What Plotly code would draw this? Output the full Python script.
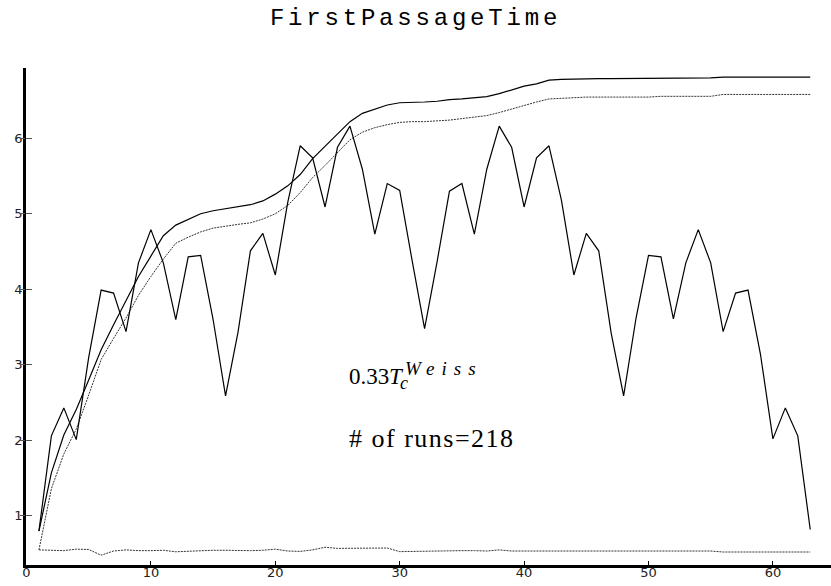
import plotly.graph_objects as go

# Site index along the chain
steps = list(range(1, 64))

# First passage time at each site
fpt = [0.80, 2.06, 2.43, 2.01, 3.10, 3.99, 3.95, 3.44, 4.35, 4.79,
       4.35, 3.60, 4.43, 4.45, 3.60, 2.59, 3.43, 4.51, 4.74, 4.19,
       5.15, 5.90, 5.74, 5.09, 5.88, 6.16, 5.59, 4.73, 5.40, 5.31,
       4.38, 3.48, 4.36, 5.30, 5.40, 4.73, 5.59, 6.16, 5.88, 5.09,
       5.74, 5.90, 5.18, 4.19, 4.74, 4.51, 3.42, 2.59, 3.62, 4.45,
       4.43, 3.61, 4.35, 4.79, 4.35, 3.44, 3.95, 3.99, 3.14, 2.02,
       2.43, 2.06, 0.82]

# Running maximum envelope
envelope = [0.80, 1.57, 2.07, 2.41, 2.80, 3.20, 3.53, 3.86, 4.17, 4.44,
            4.71, 4.85, 4.93, 5.00, 5.04, 5.07, 5.09, 5.12, 5.17, 5.26,
            5.37, 5.52, 5.73, 5.89, 6.05, 6.22, 6.33, 6.39, 6.44, 6.47,
            6.47, 6.48, 6.49, 6.51, 6.52, 6.54, 6.55, 6.59, 6.64, 6.69,
            6.72, 6.77, 6.78, 6.785, 6.79, 6.79, 6.79, 6.79, 6.79, 6.79,
            6.80, 6.80, 6.80, 6.80, 6.80, 6.81, 6.81, 6.81, 6.81, 6.81,
            6.81, 6.81, 6.81]

# Smoothed envelope
smoothed = [0.55, 1.36, 1.82, 2.15, 2.60, 3.07, 3.35, 3.62, 3.92, 4.17,
            4.40, 4.61, 4.69, 4.76, 4.81, 4.84, 4.86, 4.88, 4.93, 5.00,
            5.11, 5.28, 5.48, 5.64, 5.81, 5.98, 6.08, 6.14, 6.18, 6.21,
            6.22, 6.22, 6.23, 6.24, 6.26, 6.28, 6.30, 6.34, 6.39, 6.44,
            6.48, 6.52, 6.53, 6.54, 6.545, 6.545, 6.545, 6.545, 6.545, 6.545,
            6.555, 6.555, 6.555, 6.555, 6.555, 6.58, 6.58, 6.58, 6.58, 6.58,
            6.58, 6.58, 6.58]

# Spread of the passage time
spread = [0.55, 0.545, 0.54, 0.56, 0.555, 0.48, 0.535, 0.55, 0.54, 0.54,
          0.545, 0.525, 0.535, 0.545, 0.545, 0.545, 0.54, 0.54, 0.545, 0.56,
          0.535, 0.53, 0.55, 0.585, 0.57, 0.57, 0.57, 0.57, 0.575, 0.527,
          0.53, 0.53, 0.535, 0.545, 0.54, 0.54, 0.535, 0.55, 0.535, 0.535,
          0.535, 0.535, 0.535, 0.535, 0.535, 0.535, 0.535, 0.535, 0.535, 0.535,
          0.535, 0.535, 0.535, 0.535, 0.535, 0.522, 0.522, 0.522, 0.522, 0.522,
          0.522, 0.522, 0.522]

x_ticks = [0, 10, 20, 30, 40, 50, 60]
y_ticks = [1, 2, 3, 4, 5, 6]

title_text = "FirstPassageTime"
temp_coef = "0.33"
temp_sym = "<i>T</i>"
temp_sup = "<i>Weiss</i>"
temp_sub = "<i>c</i>"
runs_label = "# of runs=218"

W, H = 831, 586
ML, MR, MT, MB = 26, 0, 68, 21
XR = [-0.04, 64.67]
YR = [0.35, 6.93]

fig = go.Figure()

dotted = "2px,1px"
fig.add_trace(go.Scatter(x=steps, y=spread, mode="lines",
                         line=dict(color="#333", width=1, dash=dotted)))
fig.add_trace(go.Scatter(x=steps, y=smoothed, mode="lines",
                         line=dict(color="#333", width=1, dash=dotted)))
fig.add_trace(go.Scatter(x=steps, y=envelope, mode="lines",
                         line=dict(color="black", width=1.2)))
fig.add_trace(go.Scatter(x=steps, y=fpt, mode="lines",
                         line=dict(color="black", width=1.2)))
# empty trace so the overlay axes (outer tick marks) are drawn
fig.add_trace(go.Scatter(x=[None], y=[None], xaxis="x2", yaxis="y2",
                         mode="lines", hoverinfo="skip"))

tick_font = dict(family="DejaVu Sans", size=13, color="#222")

fig.update_layout(
    width=W, height=H,
    margin=dict(l=ML, r=MR, t=MT, b=MB),
    paper_bgcolor="white", plot_bgcolor="white",
    showlegend=False,
    title=dict(text='<span style="letter-spacing:3.8px">' + title_text + '</span>',
               x=0.5, xanchor="center", y=1 - 25 / H, yanchor="bottom",
               font=dict(family="Liberation Mono", size=24, color="black")),
    # main axes: inner tick marks, labels right next to the axis line
    xaxis=dict(range=XR, tickvals=x_ticks, ticks="inside", ticklen=4,
               tickwidth=1, tickcolor="black", showline=True, linewidth=2.5,
               linecolor="black", showgrid=False, zeroline=False,
               tickfont=tick_font, ticklabelstandoff=-6),
    yaxis=dict(range=YR, tickvals=y_ticks, ticks="inside", ticklen=6,
               tickwidth=1, tickcolor="#555", showline=True, linewidth=2.5,
               linecolor="black", showgrid=False, zeroline=False,
               tickfont=tick_font, ticklabelstandoff=-2),
    # overlay axes: the short outer part of each tick mark
    xaxis2=dict(range=XR, overlaying="x", anchor="y2", side="bottom",
                tickvals=x_ticks, ticks="outside", ticklen=2, tickwidth=1,
                tickcolor="black", showticklabels=False, showline=False,
                showgrid=False, zeroline=False),
    yaxis2=dict(range=YR, overlaying="y", anchor="x2", side="left",
                tickvals=y_ticks, ticks="outside", ticklen=5, tickwidth=1,
                tickcolor="#555", showticklabels=False, showline=False,
                showgrid=False, zeroline=False),
)

pw = W - ML - MR
ph = H - MT - MB


def px(xp):
    return (xp - ML) / pw


def py(yp):
    return (H - MB - yp) / ph


def label(text, left, bottom, size):
    fig.add_annotation(xref="paper", yref="paper", x=px(left), y=py(bottom),
                       xanchor="left", yanchor="bottom", showarrow=False,
                       text=text,
                       font=dict(family="Liberation Serif", size=size, color="black"))


label(temp_coef, 347, 390.5, 23)
label(temp_sym, 387, 390.5, 23)
label('<span style="letter-spacing:7px">' + temp_sup + '</span>', 403, 381, 19)
label(temp_sub, 398, 395, 18)
label('<span style="letter-spacing:1.5px">' + runs_label + '</span>', 347, 454.5, 26)

fig.write_html("out.html")
